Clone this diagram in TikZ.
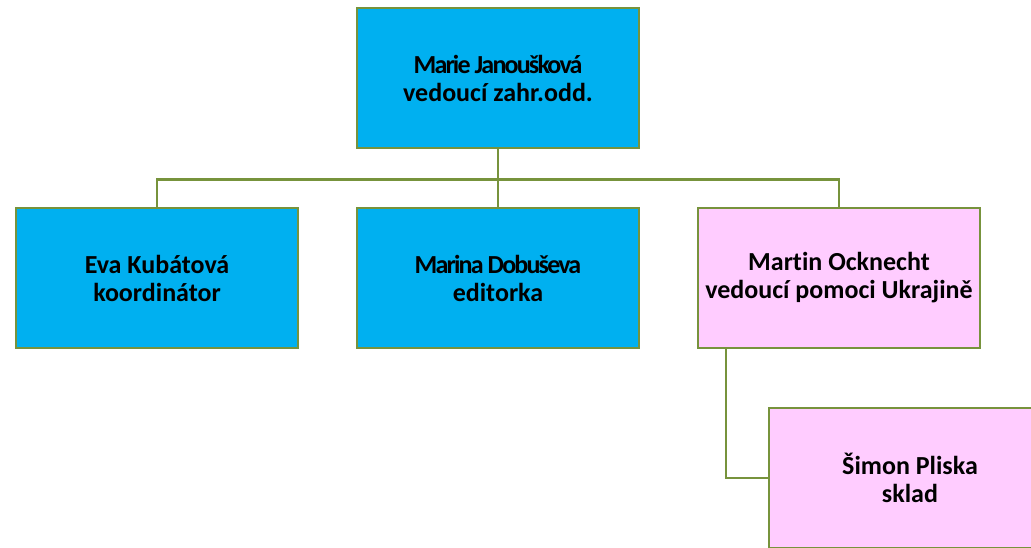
\documentclass[tikz,border=0pt]{standalone}
\usepackage{fontspec}
\setmainfont{Carlito}[Ligatures=NoCommon]
\definecolor{staffblue}{HTML}{00B0F0}
\definecolor{staffpink}{HTML}{FFCCFF}
\definecolor{linegreen}{HTML}{77933C}
\newcommand{\tightname}[1]{{\addfontfeature{LetterSpace=-7}#1}}
\begin{document}
\begin{tikzpicture}
  [x=1pt,y=-1pt,
   every node/.style={rectangle,draw=linegreen,line width=2.5pt,minimum width=282pt,
     minimum height=140pt,align=center,font=\fontsize{26}{28}\selectfont\bfseries},
   conn/.style={draw=linegreen,line width=2.5pt}]
  \useasboundingbox (0,0) rectangle (1031,547);
  \clip (0,0) rectangle (1031,547);
  \node (marie)[fill=staffblue] at (498,78) {\tightname{Marie Janoušková}\\vedoucí zahr.odd.};
  \node (eva)[fill=staffblue] at (157,278) {Eva Kubátová\\koordinátor};
  \node (marina)[fill=staffblue] at (498,278) {\tightname{Marina Dobuševa}\\editorka};
  \node (martin)[fill=staffpink] at (839,278) {Martin Ocknecht\\vedoucí pomoci Ukrajině};
  \node (simon)[fill=staffpink] at (910,478) {Šimon Pliska\\sklad};
  \foreach \kid in {eva,marina,martin}
    \draw[conn] (marie.south) -- ++(0,30) -| (\kid.north);
  \coordinate (tap) at ([xshift=29pt]martin.south west);
  \draw[conn] (tap) |- (simon.west);
\end{tikzpicture}
\end{document}
